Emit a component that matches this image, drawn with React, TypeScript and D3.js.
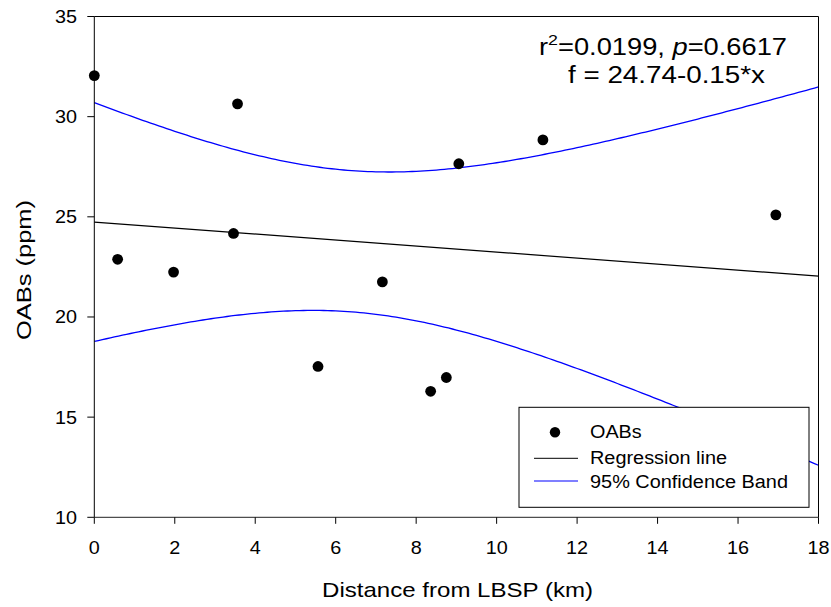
import React from "react";
import * as d3 from "d3";

// ---- data ----
const distanceKm = [0, 0.58, 1.97, 3.46, 3.56, 5.56, 7.16, 8.36, 8.75, 9.06, 11.15, 16.94];
const oabsPpm = [32.05, 22.88, 22.24, 24.17, 30.64, 17.53, 21.75, 16.29, 16.98, 27.65, 28.84, 25.1];
const regressionCoef = [24.74, -0.15]; // intercept, slope
const tCritical = 2.228; // t(0.975, df=10)
const xTicks = [0, 2, 4, 6, 8, 10, 12, 14, 16, 18];
const yTicks = [10, 15, 20, 25, 30, 35];
const legendLabels = ["OABs", "Regression line", "95% Confidence Band"];

const W = 831;
const H = 607;
const M = { left: 94.3, right: 818.5, top: 16.5, bottom: 517.3 };
const FONT = "'Liberation Sans', Arial, sans-serif";

export default function App() {
  const x = d3.scaleLinear().domain([0, 18]).range([M.left, M.right]);
  const y = d3.scaleLinear().domain([10, 35]).range([M.bottom, M.top]);

  const [b0, b1] = regressionCoef;
  const n = distanceKm.length;
  const xbar = d3.mean(distanceKm) as number;
  const sxx = d3.sum(distanceKm, (v) => (v - xbar) ** 2);
  const sse = d3.sum(distanceKm, (v, i) => (oabsPpm[i] - (b0 + b1 * v)) ** 2);
  const s = Math.sqrt(sse / (n - 2));
  const xs = d3.range(0, 18.0001, 0.1);
  const band = xs.map((v) => {
    const f = b0 + b1 * v;
    const hw = tCritical * s * Math.sqrt(1 / n + (v - xbar) ** 2 / sxx);
    return { v, lo: f - hw, hi: f + hw };
  });
  const line = d3.line<[number, number]>().x((d) => x(d[0])).y((d) => y(d[1]));
  const upperPath = line(band.map((d) => [d.v, d.hi]));
  const lowerPath = line(band.map((d) => [d.v, d.lo]));
  const regPath = line([[0, b0], [18, b0 + b1 * 18]]);

  const sx = 1.1;

  return (
    <svg width={W} height={H} style={{ position: "absolute", left: 0, top: 0, background: "#fff" }} fontFamily={FONT}>
      <rect x={0} y={0} width={W} height={H} fill="#fff" />
      {/* band & regression */}
      <path d={upperPath!} fill="none" stroke="#0000ff" strokeWidth={1.3} />
      <path d={lowerPath!} fill="none" stroke="#0000ff" strokeWidth={1.3} />
      <path d={regPath!} fill="none" stroke="#000" strokeWidth={1.2} />
      {/* points */}
      {distanceKm.map((v, i) => (
        <circle key={i} cx={x(v)} cy={y(oabsPpm[i])} r={5.4} fill="#000" />
      ))}
      {/* frame */}
      <line x1={M.left} x2={M.right} y1={M.top} y2={M.top} stroke="#000" />
      <line x1={M.right} x2={M.right} y1={M.top} y2={M.bottom} stroke="#000" />
      <line x1={M.left} x2={M.left} y1={M.top} y2={M.bottom} stroke="#000" />
      <line x1={M.left} x2={M.right} y1={M.bottom} y2={M.bottom} stroke="#222" />
      {/* x ticks */}
      {xTicks.map((t) => (
        <g key={t}>
          <line x1={x(t)} x2={x(t)} y1={M.bottom} y2={M.bottom + 6.5} stroke="#000" />
          <g transform={`translate(${x(t)},553.5) scale(${sx},1)`}>
            <text textAnchor="middle" fontSize={18} fill="#000">{t}</text>
          </g>
        </g>
      ))}
      {/* y ticks */}
      {yTicks.map((t) => (
        <g key={t}>
          <line x1={M.left - 7} x2={M.left} y1={y(t)} y2={y(t)} stroke="#000" />
          <g transform={`translate(77,${y(t) + 6.5}) scale(${sx},1)`}>
            <text textAnchor="end" fontSize={18} fill="#000">{t}</text>
          </g>
        </g>
      ))}
      {/* axis titles */}
      <text x={457.5} y={596.5} textAnchor="middle" fontSize={21} textLength={271} lengthAdjust="spacingAndGlyphs">
        Distance from LBSP (km)
      </text>
      <text transform="translate(30.5,270) rotate(-90)" textAnchor="middle" fontSize={21} textLength={140} lengthAdjust="spacingAndGlyphs">
        OABs (ppm)
      </text>
      {/* annotation */}
      <text x={539} y={55} fontSize={23} textLength={248} lengthAdjust="spacingAndGlyphs">
        r<tspan fontSize={15} dy={-10}>2</tspan>
        <tspan dy={10}>=0.0199, </tspan>
        <tspan fontStyle="italic">p</tspan>
        <tspan>=0.6617</tspan>
      </text>
      <text x={568} y={83.3} fontSize={23} textLength={197} lengthAdjust="spacingAndGlyphs">
        f = 24.74-0.15*x
      </text>
      {/* legend */}
      <rect x={519} y={407.3} width={290} height={100} fill="#fff" stroke="#000" />
      <circle cx={555} cy={432.3} r={5.2} fill="#000" />
      <line x1={534} x2={578} y1={458.3} y2={458.3} stroke="#000" />
      <line x1={534} x2={578} y1={481} y2={481} stroke="#0000ff" strokeWidth={1.2} />
      <text x={590} y={438.3} fontSize={18} textLength={51.7} lengthAdjust="spacingAndGlyphs">{legendLabels[0]}</text>
      <text x={590} y={464} fontSize={18} textLength={137} lengthAdjust="spacingAndGlyphs">{legendLabels[1]}</text>
      <text x={590} y={488.3} fontSize={18} textLength={198} lengthAdjust="spacingAndGlyphs">{legendLabels[2]}</text>
    </svg>
  );
}
